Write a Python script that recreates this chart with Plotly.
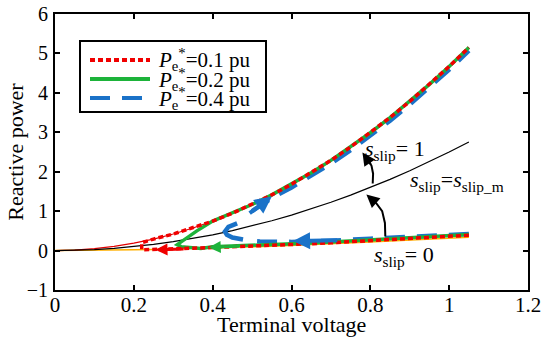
import plotly.graph_objects as go

# ---- data ----
V = [0.0, 0.05, 0.1, 0.15, 0.2, 0.25, 0.3, 0.35, 0.4, 0.45, 0.5, 0.55, 0.6, 0.65,
     0.7, 0.75, 0.8, 0.85, 0.9, 0.95, 1.0, 1.05]
Q_slip1 = [0, 0.012, 0.05, 0.105, 0.187, 0.292, 0.42, 0.572, 0.747, 0.946, 1.168, 1.413,
           1.681, 1.973, 2.288, 2.627, 2.989, 3.374, 3.783, 4.215, 4.67, 5.15]
Q_slipm = [0, 0.006, 0.025, 0.056, 0.1, 0.156, 0.225, 0.306, 0.4, 0.506, 0.625, 0.756,
           0.9, 1.056, 1.225, 1.406, 1.6, 1.806, 2.025, 2.256, 2.5, 2.756]
Q_slip0 = [0, 0.003, 0.008, 0.015, 0.025, 0.035, 0.048, 0.062, 0.077, 0.093, 0.11, 0.13,
           0.152, 0.175, 0.198, 0.222, 0.248, 0.276, 0.305, 0.335, 0.36, 0.39]
Q_yellow = [0, 0.002, 0.006, 0.012, 0.02, 0.03, 0.04, 0.052, 0.065, 0.08, 0.095, 0.112,
            0.13, 0.15, 0.17, 0.192, 0.215, 0.24, 0.265, 0.29, 0.315, 0.34]

# transition hooks (voltage, reactive power)
hook_01_V = [0.22, 0.22]
hook_01_Q = [0.02, 0.2]
hook_02_V = [0.37, 0.32, 0.31, 0.33, 0.36]
hook_02_Q = [0.05, 0.1, 0.15, 0.3, 0.5]
# P=0.4 lower branch, hook and start of upper branch
low_04_V = [1.05, 1.0, 0.9, 0.8, 0.7, 0.6, 0.52, 0.49]
low_04_Q = [0.42, 0.4, 0.35, 0.3, 0.25, 0.22, 0.23, 0.25]
hook_04_V = [0.477, 0.45, 0.436, 0.431, 0.44, 0.462]
hook_04_Q = [0.28, 0.33, 0.4, 0.48, 0.6, 0.69]
up_04_start_V = [0.50]
up_04_start_Q = [1.0]

series_names = ["<i>P</i><sub>e</sub><sup>*</sup>=0.1 pu",
                "<i>P</i><sub>e</sub><sup>*</sup>=0.2 pu",
                "<i>P</i><sub>e</sub><sup>*</sup>=0.4 pu"]
series_colors = ["#F00000", "#1DB33A", "#1A72C8"]
series_dash = ["5px,3px", "solid", "20px,12px"]

x_ticks = [0, 0.2, 0.4, 0.6, 0.8, 1.0, 1.2]
x_ticktext = ["0", "0.2", "0.4", "0.6", "0.8", "1", "1.2"]

def traj(low_V, low_Q, hook_V, hook_Q, i_up, shift=0.0):
    uv = V[i_up:]
    uq = [q - shift for q in Q_slip1[i_up:]]
    return low_V + hook_V + uv, low_Q + hook_Q + uq

red_V, red_Q = traj(V[5:][::-1], Q_slip0[5:][::-1], hook_01_V, hook_01_Q, 5)
grn_V, grn_Q = traj(V[8:][::-1], [q + 0.02 for q in Q_slip0[8:][::-1]], hook_02_V, hook_02_Q, 8)
blu_up_V, blu_up_Q = traj([], [], up_04_start_V, up_04_start_Q, 11, shift=0.08)

# black curved arrows (path points)
arr_lo_V = [0.838, 0.837, 0.83, 0.815, 0.80]
arr_lo_Q = [0.36, 0.7, 1.0, 1.2, 1.3]
arr_hi_V = [0.806, 0.807, 0.803, 0.795]
arr_hi_Q = [1.7, 1.95, 2.15, 2.3]

FONT = "Liberation Serif"

fig = go.Figure()
fig.add_trace(go.Scatter(x=V, y=Q_yellow, mode="lines", line=dict(color="#FFB000", width=1.5), showlegend=False))
fig.add_trace(go.Scatter(x=V, y=Q_slip1, mode="lines", line=dict(color="#E00000", width=1.2), showlegend=False))
fig.add_trace(go.Scatter(x=V, y=Q_slipm, mode="lines", line=dict(color="black", width=1.2), showlegend=False))

blue_line = dict(color=series_colors[2], width=4.5, dash=series_dash[2])
fig.add_trace(go.Scatter(x=low_04_V, y=low_04_Q, mode="lines", name=series_names[2], showlegend=False, line=blue_line))
fig.add_trace(go.Scatter(x=hook_04_V, y=hook_04_Q, mode="lines", showlegend=False,
                         line=dict(color=series_colors[2], width=4.5, dash="45px,10px")))
fig.add_trace(go.Scatter(x=blu_up_V, y=blu_up_Q, mode="lines", showlegend=False, line=blue_line))
fig.add_trace(go.Scatter(x=grn_V, y=grn_Q, mode="lines", name=series_names[1], showlegend=False,
                         line=dict(color=series_colors[1], width=3.5)))
fig.add_trace(go.Scatter(x=red_V, y=red_Q, mode="lines", name=series_names[0], showlegend=False,
                         line=dict(color=series_colors[0], width=3.5, dash=series_dash[0])))

fig.add_trace(go.Scatter(x=arr_lo_V, y=arr_lo_Q, mode="lines", line=dict(color="black", width=2), showlegend=False))
fig.add_trace(go.Scatter(x=arr_hi_V, y=arr_hi_Q, mode="lines", line=dict(color="black", width=2), showlegend=False))

def arrow(hx, hy, tx, ty, color, size, width):
    fig.add_annotation(x=hx, y=hy, ax=tx, ay=ty, xref="x", yref="y", axref="x", ayref="y",
                       showarrow=True, arrowhead=2, arrowsize=size, arrowwidth=width,
                       arrowcolor=color, text="")

arrow(0.79, 1.42, 0.815, 1.2, "black", 1.3, 2)
arrow(0.78, 2.49, 0.803, 2.15, "black", 1.3, 2)
arrow(0.255, 0.02, 0.33, 0.04, series_colors[0], 0.8, 3)
arrow(0.39, 0.08, 0.47, 0.11, series_colors[1], 0.8, 3)
arrow(0.604, 0.24, 0.72, 0.26, series_colors[2], 0.85, 4)
arrow(0.55, 1.37, 0.49, 0.92, series_colors[2], 0.85, 4)

tf = dict(family=FONT, size=22, color="black")
fig.add_annotation(x=0.862, y=2.55, xref="x", yref="y", showarrow=False, font=tf,
                   text="<i>s</i><sub>slip</sub>= 1")
fig.add_annotation(x=1.02, y=1.76, xref="x", yref="y", showarrow=False, font=tf,
                   text="<i>s</i><sub>slip</sub>=<i>s</i><sub>slip_m</sub>")
fig.add_annotation(x=0.886, y=-0.14, xref="x", yref="y", showarrow=False, font=tf,
                   text="<i>s</i><sub>slip</sub>= 0")

# axis titles
fig.add_annotation(x=0.5, y=-0.125, xref="paper", yref="paper", showarrow=False, font=tf,
                   text="Terminal voltage", xanchor="center", yanchor="middle")
fig.add_annotation(x=-0.085, y=0.5, xref="paper", yref="paper", showarrow=False, font=tf,
                   text="Reactive power", textangle=-90, xanchor="center", yanchor="middle")

# legend (box, samples, labels) -- positions in picture pixels relative to plot area
def px_x(p):
    return (p - 55) / 473.0

def px_y(p):
    return (290 - p) / 276.0

fig.add_shape(type="rect", xref="paper", yref="paper", x0=px_x(80), x1=px_x(266), y0=px_y(112), y1=px_y(41),
              line=dict(color="black", width=2), fillcolor="white", layer="above")
row_y = [60, 79, 98]
for i in range(3):
    fig.add_shape(type="line", xref="paper", yref="paper", x0=px_x(90), x1=px_x(150),
                  y0=px_y(row_y[i]), y1=px_y(row_y[i]), layer="above",
                  line=dict(color=series_colors[i], width=4, dash=series_dash[i]))
    fig.add_annotation(x=px_x(156), y=px_y(row_y[i]), xref="paper", yref="paper", showarrow=False,
                       xanchor="left", yanchor="middle", font=dict(family=FONT, size=21, color="black"),
                       text=series_names[i])

axis_common = dict(showgrid=False, zeroline=False, showline=True, linecolor="black", linewidth=2,
                   mirror="ticks", ticks="inside", ticklen=5, tickwidth=1.5, tickcolor="black",
                   automargin=False, ticklabeloverflow="allow")
fig.update_xaxes(range=[0, 1.2], tickvals=x_ticks, ticktext=x_ticktext, ticklabelstandoff=-5,
                 tickfont=dict(family=FONT, size=21, color="black"), **axis_common)
fig.update_yaxes(range=[-1, 6], dtick=1, ticklabelstandoff=1,
                 tickfont=dict(family=FONT, size=20, color="black"), **axis_common)

fig.update_layout(
    width=550, height=339, margin=dict(l=55, r=22, t=14, b=49),
    plot_bgcolor="white", paper_bgcolor="white", showlegend=False,
)
fig.write_html("out.html", config={"displayModeBar": False},
               post_script="document.body.style.margin='0';")
